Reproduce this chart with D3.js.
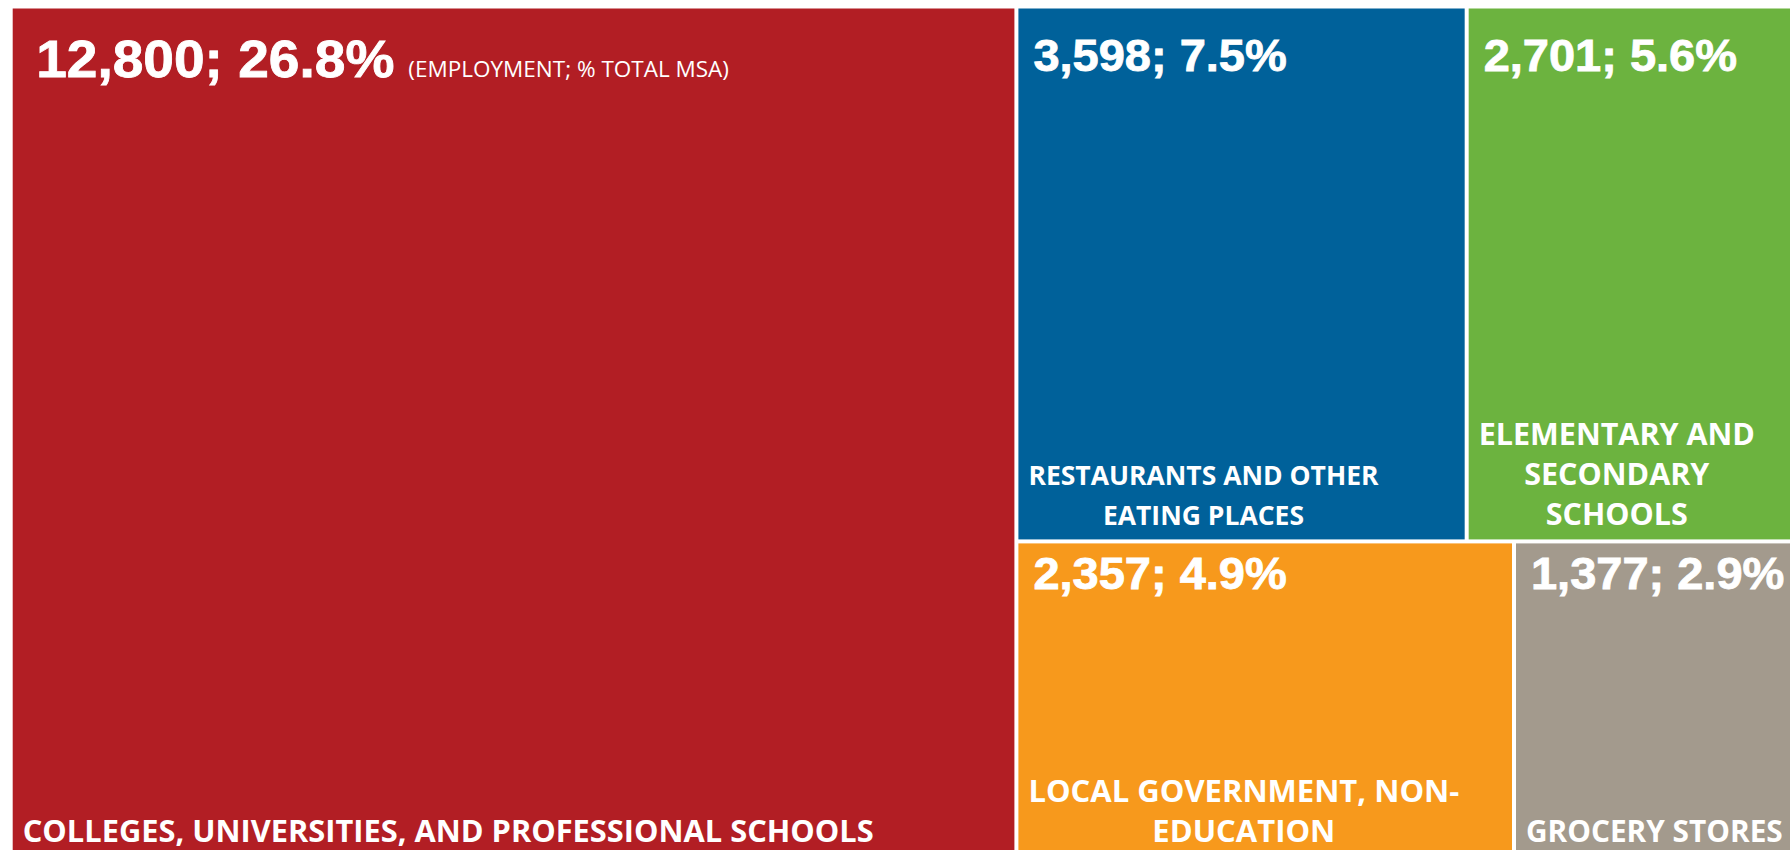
<!DOCTYPE html>
<html>
<head>
<meta charset="utf-8">
<script src="https://cdn.jsdelivr.net/npm/d3@7"></script>
<style>
  body { margin: 0; background: #fff; overflow: hidden; }
  .value { font-family: "Liberation Sans", Arial, sans-serif; font-weight: bold; fill: #fff; stroke: #fff; stroke-width: 0.8px; }
  .cat { font-family: "Open Sans", sans-serif; font-weight: 700; fill: #fff; }
  .note { font-family: "Open Sans", sans-serif; font-weight: 400; fill: #fff; }
</style>
</head>
<body>
<div class="treemap"></div>
<script>
  var width = 1790;
  var height = 850;

  // the data
  var categories = [
    "COLLEGES, UNIVERSITIES, AND PROFESSIONAL SCHOOLS",
    "RESTAURANTS AND OTHER EATING PLACES",
    "ELEMENTARY AND SECONDARY SCHOOLS",
    "LOCAL GOVERNMENT, NON-EDUCATION",
    "GROCERY STORES"
  ];
  var labelLines = [
    ["COLLEGES, UNIVERSITIES, AND PROFESSIONAL SCHOOLS"],
    ["RESTAURANTS AND OTHER", "EATING PLACES"],
    ["ELEMENTARY AND", "SECONDARY", "SCHOOLS"],
    ["LOCAL GOVERNMENT, NON-", "EDUCATION"],
    ["GROCERY STORES"]
  ];
  var employment = [12800, 3598, 2701, 2357, 1377];
  var pctTotal = [26.8, 7.5, 5.6, 4.9, 2.9];
  var tileGroup = ["left", "top", "top", "bottom", "bottom"];
  var noteText = "(EMPLOYMENT; % TOTAL MSA)";

  var colors = ["#b21e24", "#00619a", "#6cb33f", "#f7991c", "#a39a8d"];
  // the name font isn't the same size in every tile
  var catFontSize = [30.8, 26.5, 30.5, 31, 29.8];

  // offsets of the number label from the tile top, per tile group
  var valueDy = { left: 68, top: 62, bottom: 46 };

  var svg = d3.select(".treemap")
    .append("svg")
    .attr("width", width)
    .attr("height", height);

  var leaves = categories.map(function(c, i) {
    return { name: c, lines: labelLines[i], value: employment[i], pct: pctTotal[i], group: tileGroup[i], idx: i };
  });

  // left tile on its own, the rest split in a top and bottom row
  var rootData = {
    children: leaves.filter(function(d) { return d.group == "left"; }).concat([{
      children: [
        { children: leaves.filter(function(d) { return d.group == "top"; }) },
        { children: leaves.filter(function(d) { return d.group == "bottom"; }) }
      ]
    }])
  };

  var root = d3.hierarchy(rootData).sum(function(d) { return d.value || 0; });

  // chart runs a bit past the right and bottom edge, like the cropped original
  d3.treemap()
    .tile(d3.treemapSliceDice)
    .size([1790, 848])
    .paddingInner(4)
    (root);

  var chart = svg.append("g").attr("transform", "translate(12.7,8.5)");

  var fmt = d3.format(",");

  var tiles = chart.selectAll("g")
    .data(root.leaves())
    .enter()
    .append("g");

  tiles.append("rect")
    .attr("x", function(d) { return d.x0; })
    .attr("y", function(d) { return d.y0; })
    .attr("width", function(d) { return d.x1 - d.x0; })
    .attr("height", function(d) { return d.y1 - d.y0; })
    .attr("fill", function(d) { return colors[d.data.idx]; });

  // number labels, a touch wider than plain Arial bold
  tiles.append("text")
    .attr("class", "value")
    .attr("transform", function(d) {
      var big = d.data.group == "left";
      return "translate(" + (d.x0 + (big ? 23.5 : 15)) + "," + (d.y0 + valueDy[d.data.group]) + ") scale(1.08,1)";
    })
    .style("font-size", function(d) { return d.data.group == "left" ? "51px" : "43.5px"; })
    .text(function(d) { return fmt(d.data.value) + "; " + d.data.pct.toFixed(1) + "%"; });

  // little note after the biggest number
  var bigTile = root.leaves()[0];
  var bigW = tiles.select(".value").node().getComputedTextLength() * 1.08;
  chart.append("text")
    .attr("class", "note")
    .attr("x", bigTile.x0 + 23.5 + bigW + 14)
    .attr("y", bigTile.y0 + valueDy.left)
    .style("font-size", "22.5px")
    .text(noteText);

  // category names at the bottom of each tile, lines centred on the widest one
  tiles.each(function(d) {
    var g = d3.select(this);
    var fs = catFontSize[d.data.idx];
    var lh = 40;
    var n = d.data.lines.length;
    var lastY = d.y1 - 14.5;
    var texts = g.selectAll(".cat")
      .data(d.data.lines)
      .enter()
      .append("text")
      .attr("class", "cat")
      .style("font-size", fs + "px")
      .attr("y", function(l, i) { return lastY - (n - 1 - i) * lh; })
      .text(function(l) { return l; });
    var maxW = 0;
    texts.each(function() { maxW = Math.max(maxW, this.getComputedTextLength()); });
    texts.attr("text-anchor", "middle")
      .attr("x", d.x0 + 10 + maxW / 2);
  });
</script>
</body>
</html>
